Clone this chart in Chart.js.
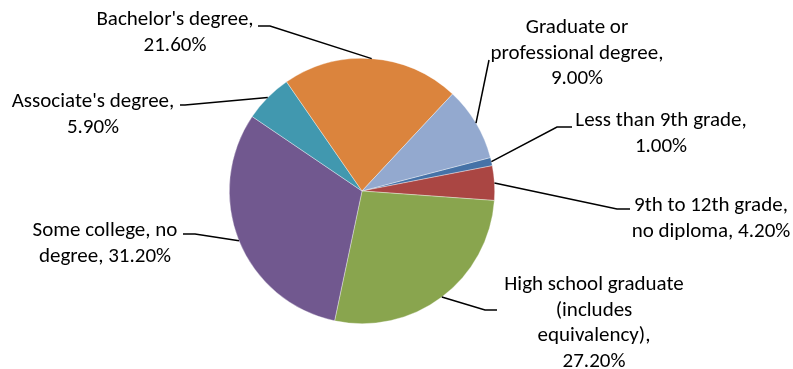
<!DOCTYPE html>
<html>
<head>
<meta charset="utf-8">
<script src="https://cdn.jsdelivr.net/npm/chart.js@4.4.0/dist/chart.umd.min.js"></script>
<style>
  html, body { margin: 0; padding: 0; background: #fff; }
  #wrap { width: 793px; height: 369px; position: relative; }
</style>
</head>
<body>
<div id="wrap"><canvas id="c" width="793" height="369"></canvas></div>
<script>
// ---- data ----
const categories = [
  "Less than 9th grade",
  "9th to 12th grade, no diploma",
  "High school graduate (includes equivalency)",
  "Some college, no degree",
  "Associate's degree",
  "Bachelor's degree",
  "Graduate or professional degree"
];
const shares = [1.0, 4.2, 27.2, 31.2, 5.9, 21.6, 9.0];
const labelLines = [
  ["Less than 9th grade,", "1.00%"],
  ["9th to 12th grade,", "no diploma, 4.20%"],
  ["High school graduate", "(includes", "equivalency),", "27.20%"],
  ["Some college, no", "degree, 31.20%"],
  ["Associate's degree,", "5.90%"],
  ["Bachelor's degree,", "21.60%"],
  ["Graduate or", "professional degree,", "9.00%"]
];

// ---- style / layout ----
const colors = ["#4572A7", "#AA4643", "#89A54E", "#71588F", "#4198AF", "#DB843D", "#93A9CF"];
// label placement: text centre x, first-line y, leader elbow, leader end
const labelLayout = [
  { cx: 661, y0: 121, elbow: [557, 127], end: [572, 127] },
  { cx: 711, y0: 206, elbow: [617, 209], end: [630, 209] },
  { cx: 594, y0: 285, elbow: [485, 310], end: [497, 310] },
  { cx: 105, y0: 231, elbow: [195, 234], end: [183, 234] },
  { cx: 93,  y0: 102, elbow: [185, 105], end: [180, 105] },
  { cx: 175, y0: 20,  elbow: [270, 26],  end: [258, 26] },
  { cx: 577, y0: 28,  elbow: [489, 60],  end: [489, 60] }
];
const lineHeight = 25.5;

// pick font size so that label width matches original (~146px for "Some college, no")
const fontFamily = "'Carlito', 'Liberation Sans Narrow', 'DejaVu Sans Condensed', 'Open Sans', sans-serif";
let fontSize = 20;
(function () {
  const ctx = document.createElement('canvas').getContext('2d');
  ctx.font = "20px " + fontFamily;
  const w = ctx.measureText("Some college, no").width;
  fontSize = Math.max(14, Math.min(21, 20 * 146 / w));
})();

const labelPlugin = {
  id: 'outLabels',
  afterDatasetsDraw(chart) {
    const ctx = chart.ctx;
    const meta = chart.getDatasetMeta(0);
    ctx.save();
    ctx.font = fontSize + "px " + fontFamily;
    ctx.fillStyle = "#000";
    ctx.strokeStyle = "#000";
    ctx.lineWidth = 1.5;
    ctx.textAlign = "center";
    ctx.textBaseline = "middle";
    meta.data.forEach((arc, i) => {
      const p = arc.getProps(['x', 'y', 'startAngle', 'endAngle', 'outerRadius'], true);
      const a = (p.startAngle + p.endAngle) / 2;
      const sx = p.x + Math.cos(a) * p.outerRadius;
      const sy = p.y + Math.sin(a) * p.outerRadius;
      const L = labelLayout[i];
      ctx.beginPath();
      ctx.moveTo(sx, sy);
      ctx.lineTo(L.elbow[0], L.elbow[1]);
      ctx.lineTo(L.end[0], L.end[1]);
      ctx.stroke();
      labelLines[i].forEach((t, k) => {
        ctx.fillText(t, L.cx, L.y0 + k * lineHeight);
      });
    });
    ctx.restore();
  }
};

new Chart(document.getElementById('c'), {
  type: 'pie',
  data: {
    labels: categories,
    datasets: [{
      data: shares,
      backgroundColor: colors,
      borderColor: "rgba(255,255,255,0.6)",
      borderWidth: 0.6
    }]
  },
  options: {
    responsive: false,
    animation: false,
    rotation: 75.4,
    layout: { padding: { left: 229, right: 298, top: 58, bottom: 45 } },
    plugins: {
      legend: { display: false },
      tooltip: { enabled: false }
    }
  },
  plugins: [labelPlugin]
});
</script>
</body>
</html>
